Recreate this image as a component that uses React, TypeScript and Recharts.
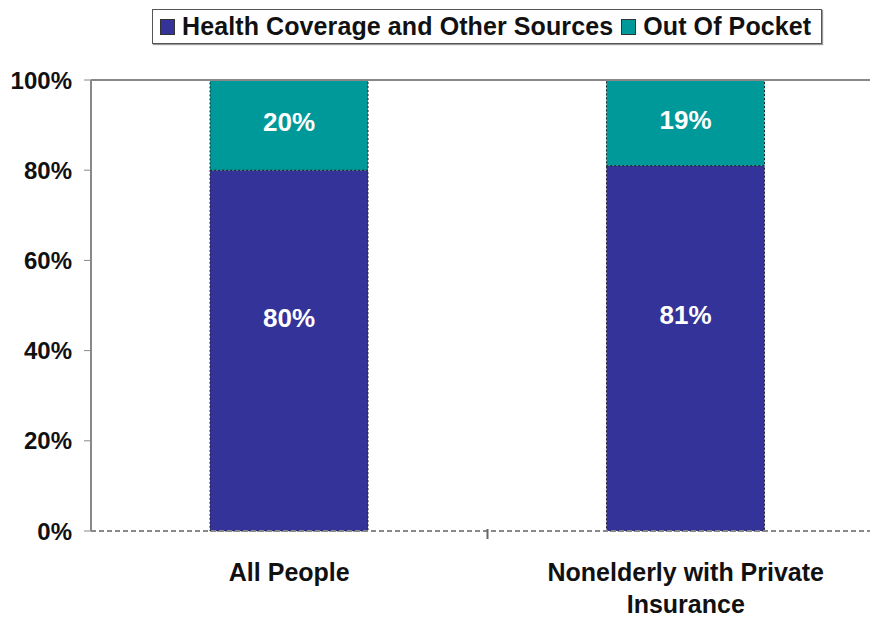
import React from "react";
import { BarChart, Bar, XAxis, YAxis, ReferenceLine, LabelList } from "recharts";

const categories = ["All People", "Nonelderly with Private Insurance"];
const tickLines = [["All People"], ["Nonelderly with Private", "Insurance"]];
const coverageValues = [80, 81];
const outOfPocketValues = [20, 19];
const yTicks = [0, 20, 40, 60, 80, 100];
const seriesNames = ["Health Coverage and Other Sources", "Out Of Pocket"];

const data = categories.map((name, i) => ({
  name,
  coverage: coverageValues[i],
  oop: outOfPocketValues[i],
}));

const NAVY = "#333399";
const TEAL = "#009999";
const FONT = "'Liberation Sans', Arial, sans-serif";
const CHART_W = 884;
const CHART_H = 617;
const Y_W = 91;
const BAND = (CHART_W - Y_W) / categories.length;

function XTick(props: any) {
  const { x, y, index } = props;
  const lines = tickLines[index] || [];
  return (
    <g>
      {index < categories.length - 1 && (
        <line x1={x + BAND / 2} x2={x + BAND / 2} y1={y - 10} y2={y} stroke="#666" strokeWidth={2} />
      )}
      <text
        x={x}
        y={y + 42}
        textAnchor="middle"
        fill="#111"
        style={{ fontFamily: FONT, fontSize: 25, fontWeight: "bold" }}
      >
        {lines.map((l, i) => (
          <tspan key={i} x={x} dy={i === 0 ? 0 : 32}>
            {l}
          </tspan>
        ))}
      </text>
    </g>
  );
}

function segLabel(pos: number) {
  return (props: any) => {
    const { x, y, width, height, value } = props;
    return (
      <text
        x={x + width / 2}
        y={y + height * pos}
        textAnchor="middle"
        dominantBaseline="central"
        fill="#fff"
        style={{ fontFamily: FONT, fontSize: 26, fontWeight: "bold" }}
      >
        {value}%
      </text>
    );
  };
}

function LegendBox() {
  const colors = [NAVY, TEAL];
  return (
    <div
      style={{
        position: "absolute",
        left: 152,
        top: 9,
        display: "inline-flex",
        alignItems: "center",
        border: "1px solid #555",
        boxShadow: "1px 1px 1px #999",
        padding: "2px 10px 2px 7px",
        background: "#fff",
        fontFamily: FONT,
        fontSize: 25,
        fontWeight: "bold",
        color: "#111",
        whiteSpace: "nowrap",
        letterSpacing: 0.1,
      }}
    >
      {seriesNames.map((n, i) => (
        <span key={n} style={{ display: "inline-flex", alignItems: "center", marginRight: i === 0 ? 8 : 0 }}>
          <span
            style={{
              display: "inline-block",
              width: 13,
              height: 14,
              background: colors[i],
              border: "1px solid #333",
              marginRight: 7,
            }}
          />
          {n}
        </span>
      ))}
    </div>
  );
}

export default function App() {
  return (
    <div style={{ position: "absolute", left: 0, top: 0, width: 870, height: CHART_H, overflow: "hidden", background: "#fff" }}>
      <BarChart
        width={CHART_W}
        height={CHART_H}
        data={data}
        margin={{ top: 80, right: 0, bottom: 0, left: 0 }}
        barSize={158}
      >
        <ReferenceLine y={100} stroke="#888" strokeWidth={2} />
        <XAxis
          dataKey="name"
          height={86}
          axisLine={{ stroke: "#888", strokeDasharray: "5 3", strokeWidth: 2 }}
          tickLine={false}
          tick={<XTick />}
          interval={0}
        />
        <YAxis
          width={Y_W}
          domain={[0, 100]}
          ticks={yTicks}
          tickFormatter={(v) => `${v}%`}
          axisLine={{ stroke: "#888", strokeWidth: 2 }}
          tickLine={{ stroke: "#888" }}
          tickSize={7}
          tickMargin={12}
          tick={{ fill: "#111", fontFamily: FONT, fontSize: 24, fontWeight: "bold" }}
        />
        <Bar dataKey="coverage" name={seriesNames[0]} stackId="a" fill={NAVY} stroke="#222" strokeDasharray="2 2" isAnimationActive={false}>
          <LabelList dataKey="coverage" content={segLabel(0.41)} />
        </Bar>
        <Bar dataKey="oop" name={seriesNames[1]} stackId="a" fill={TEAL} stroke="#222" strokeDasharray="2 2" isAnimationActive={false}>
          <LabelList dataKey="oop" content={segLabel(0.47)} />
        </Bar>
      </BarChart>
      <LegendBox />
    </div>
  );
}
